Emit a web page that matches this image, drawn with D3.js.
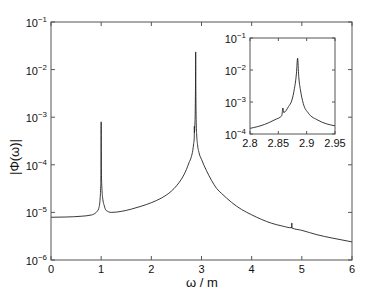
<!DOCTYPE html>
<html><head><meta charset="utf-8">
<script src="https://cdn.jsdelivr.net/npm/d3@7"></script>
<style>body{margin:0;background:#fff}svg{display:block;font-family:"Liberation Sans",Arial,sans-serif}</style>
</head><body><svg id="c" width="390" height="294"></svg>
<script>
// frequency omega / m
const omega = [0,0.3,0.6,0.8,0.9,0.95,0.98,0.99,0.995,0.998,1.0,1.002,1.006,1.015,1.03,1.06,1.1,1.2,1.4,1.6,1.8,2.0,2.2,2.4,2.5,2.6,2.7,2.75,
  2.8,2.826,2.844,2.856,2.858,2.8595,2.868,2.874,2.878,2.882,2.884,2.886,2.889,2.894,2.903,2.92,2.95,
  3.0,3.1,3.2,3.3,3.4,3.5,3.6,3.8,4.0,4.2,4.4,4.6,4.798,4.8,4.802,5.0,5.3,5.6,6.0];
// |Phi(omega)|
const phi = [7.9e-6,8.0e-6,8.3e-6,8.8e-6,1.0e-5,1.2e-5,2e-5,3.5e-5,6e-5,2e-4,8e-4,2e-4,6e-5,3.2e-5,2.0e-5,1.4e-5,1.1e-5,1.0e-5,1.05e-5,1.17e-5,1.35e-5,1.6e-5,2.0e-5,2.8e-5,3.6e-5,5.0e-5,8.0e-5,1.1e-4,
  1.5e-4,2.0e-4,2.8e-4,3.7e-4,6.5e-4,4.7e-4,7.2e-4,1.15e-3,2.4e-3,8e-3,2.35e-2,6.3e-3,2.4e-3,9e-4,4.5e-4,2.7e-4,1.8e-4,
  1.3e-4,7.5e-5,4.7e-5,3.2e-5,2.5e-5,2.0e-5,1.62e-5,1.15e-5,8.9e-6,7.1e-6,5.9e-6,5.2e-6,4.75e-6,6e-6,4.7e-6,4.2e-6,3.4e-6,2.9e-6,2.4e-6];
const xTicks = [0,1,2,3,4,5,6];
const yTicks = [-6,-5,-4,-3,-2,-1];
const insetXTicks = [2.8,2.85,2.9,2.95];
const insetYTicks = [-4,-3,-2,-1];

const data = omega.map((w,i)=>({w, p: phi[i]}));
const svg = d3.select("#c");
const axisCol = "#555", lineCol = "#222";

function panel(x0,x1,y0,y1,xd,yd,xt,yt,fmtX,tickLen,fs){
  const x = d3.scaleLinear().domain(xd).range([x0,x1]);
  const y = d3.scaleLog().domain(yd).range([y1,y0]);
  const g = svg.append("g");
  g.append("rect").attr("x",x0).attr("y",y0).attr("width",x1-x0).attr("height",y1-y0).attr("fill","#fff");
  const clipId = "clip"+Math.round(x0);
  g.append("clipPath").attr("id",clipId).append("rect").attr("x",x0).attr("y",y0).attr("width",x1-x0).attr("height",y1-y0);
  const sub = data.filter(d=>d.w>=xd[0]-0.02 && d.w<=xd[1]+0.02);
  g.append("path").datum(sub).attr("clip-path",`url(#${clipId})`)
    .attr("fill","none").attr("stroke",lineCol).attr("stroke-width",0.9)
    .attr("d",d3.line().curve(d3.curveMonotoneX).x(d=>x(d.w)).y(d=>y(d.p)));
  xt.forEach(t=>{
    g.append("line").attr("x1",x(t)).attr("x2",x(t)).attr("y1",y1).attr("y2",y1-tickLen).attr("stroke",axisCol);
    g.append("line").attr("x1",x(t)).attr("x2",x(t)).attr("y1",y0).attr("y2",y0+tickLen).attr("stroke",axisCol);
    g.append("text").attr("x",x(t)).attr("y",y1+13).attr("text-anchor","middle").attr("font-size",fs).attr("fill","#111").text(fmtX(t));
  });
  yt.forEach(e=>{
    const yy = y(Math.pow(10,e));
    g.append("line").attr("x1",x0).attr("x2",x0+tickLen).attr("y1",yy).attr("y2",yy).attr("stroke",axisCol);
    g.append("line").attr("x1",x1).attr("x2",x1-tickLen).attr("y1",yy).attr("y2",yy).attr("stroke",axisCol);
    const t = g.append("text").attr("x",x0-4).attr("y",yy+5).attr("text-anchor","end").attr("font-size",fs).attr("fill","#111");
    t.append("tspan").text("10");
    t.append("tspan").attr("dy",-5).attr("font-size",fs*0.72).text("\u2212"+(-e));
  });
  g.append("rect").attr("x",x0).attr("y",y0).attr("width",x1-x0).attr("height",y1-y0)
    .attr("fill","none").attr("stroke",axisCol).attr("stroke-width",1);
  return g;
}

panel(51,352,22,260,[0,6],[1e-6,1e-1],xTicks,yTicks,d=>d,4,11);
panel(250,335,38,134,[2.8,2.95],[1e-4,1e-1],insetXTicks,insetYTicks,d=>d3.format("")(d),3,11);

svg.append("text").attr("x",202).attr("y",287).attr("text-anchor","middle").attr("font-size",13).attr("fill","#111").text("\u03c9 / m");
svg.append("text").attr("transform","translate(19,157) rotate(-90)").attr("text-anchor","middle").attr("font-size",13).attr("fill","#111").text("|\u03a6(\u03c9)|");
</script></body></html>
